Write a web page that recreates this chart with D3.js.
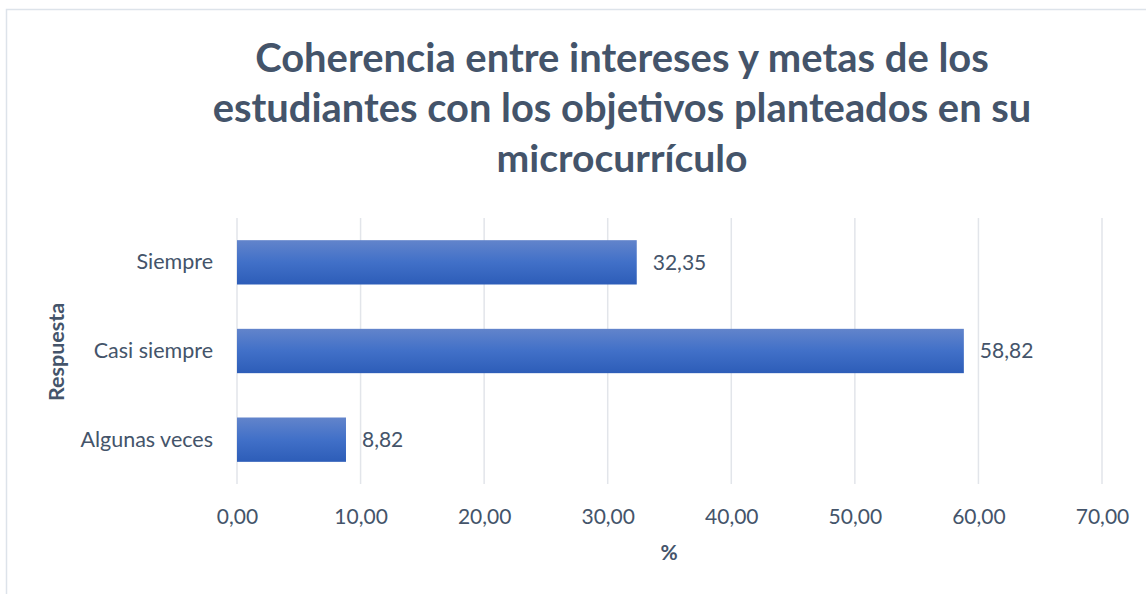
<!DOCTYPE html>
<html>
<head>
<meta charset="utf-8">
<script src="https://cdn.jsdelivr.net/npm/d3@7"></script>
<style>
  body { margin: 0; background: #fff; }
  svg text { font-family: Lato, "Open Sans", sans-serif; fill: #44546A; }
</style>
</head>
<body>
<div id="chart"></div>
<script>
// chart data
const categories = ["Siempre", "Casi siempre", "Algunas veces"];
const values = [32.35, 58.82, 8.82];
const xTicks = [0, 10, 20, 30, 40, 50, 60, 70];
const titleLines = [
  "Coherencia entre intereses y metas de los",
  "estudiantes con los objetivos planteados en su",
  "microcurrículo"
];

const W = 1146, H = 594;
const fmt = v => v.toFixed(2).replace(".", ",");

const svg = d3.select("#chart")
  .append("svg")
  .attr("width", W)
  .attr("height", H);

// outer frame
svg.append("rect")
  .attr("x", 6.5).attr("y", 9.5)
  .attr("width", W).attr("height", H)
  .attr("fill", "#fff")
  .attr("stroke", "#dde3ea")
  .attr("stroke-width", 1.5);

// bar gradient
const grad = svg.append("defs").append("linearGradient")
  .attr("id", "barGrad")
  .attr("x1", 0).attr("y1", 0).attr("x2", 0).attr("y2", 1);
grad.append("stop").attr("offset", "0%").attr("stop-color", "#6284cb");
grad.append("stop").attr("offset", "50%").attr("stop-color", "#4170c8");
grad.append("stop").attr("offset", "100%").attr("stop-color", "#2d5db8");

// title, each line fitted to its width in the original
const titleWidths = [734, 819, 251];
titleLines.forEach((line, i) => {
  const t = svg.append("text")
    .attr("x", 622)
    .attr("y", 72 + i * 50)
    .attr("text-anchor", "middle")
    .attr("font-weight", "bold")
    .attr("font-size", 36)
    .text(line);
  const w = t.node().getComputedTextLength();
  t.attr("font-size", 36 * titleWidths[i] / w);
});

const x = d3.scaleLinear()
  .domain([0, 70])
  .range([237, 1102]);

const y = d3.scaleBand()
  .domain(categories)
  .range([218, 484])
  .paddingInner(0.5)
  .paddingOuter(0.25);

// vertical gridlines
svg.append("g")
  .selectAll("line")
  .data(xTicks)
  .join("line")
  .attr("x1", d => x(d)).attr("x2", d => x(d))
  .attr("y1", 218).attr("y2", 484)
  .attr("stroke", "#e2e5ea")
  .attr("stroke-width", 1.5);

// x axis labels
const xAxis = svg.append("g")
  .attr("transform", "translate(0,484)")
  .call(d3.axisBottom(x).tickValues(xTicks).tickFormat(fmt).tickSize(0).tickPadding(25));
xAxis.select(".domain").remove();
xAxis.selectAll("text")
  .attr("font-size", 21)
  .attr("fill", "#44546A")
  .style("font-family", "Lato, 'Open Sans', sans-serif");

// y axis labels
const yAxis = svg.append("g")
  .attr("transform", "translate(237,0)")
  .call(d3.axisLeft(y).tickSize(0).tickPadding(24));
yAxis.select(".domain").remove();
yAxis.selectAll("text")
  .attr("font-size", 21.5)
  .attr("fill", "#44546A")
  .style("font-family", "Lato, 'Open Sans', sans-serif");

// bars
svg.append("g")
  .selectAll("rect")
  .data(values)
  .join("rect")
  .attr("x", x(0))
  .attr("y", (d, i) => y(categories[i]))
  .attr("width", d => x(d) - x(0))
  .attr("height", y.bandwidth())
  .attr("fill", "url(#barGrad)");

// value labels
svg.append("g")
  .selectAll("text")
  .data(values)
  .join("text")
  .attr("x", d => x(d) + 16)
  .attr("y", (d, i) => y(categories[i]) + y.bandwidth() / 2)
  .attr("dy", "0.35em")
  .attr("font-size", 21)
  .text(fmt);

// axis titles
svg.append("text")
  .attr("x", 669).attr("y", 560)
  .attr("text-anchor", "middle")
  .attr("font-weight", "bold")
  .attr("font-size", 21)
  .text("%");

svg.append("text")
  .attr("transform", "translate(64,352) rotate(-90)")
  .attr("text-anchor", "middle")
  .attr("font-weight", "bold")
  .attr("font-size", 21.5)
  .text("Respuesta");
</script>
</body>
</html>
